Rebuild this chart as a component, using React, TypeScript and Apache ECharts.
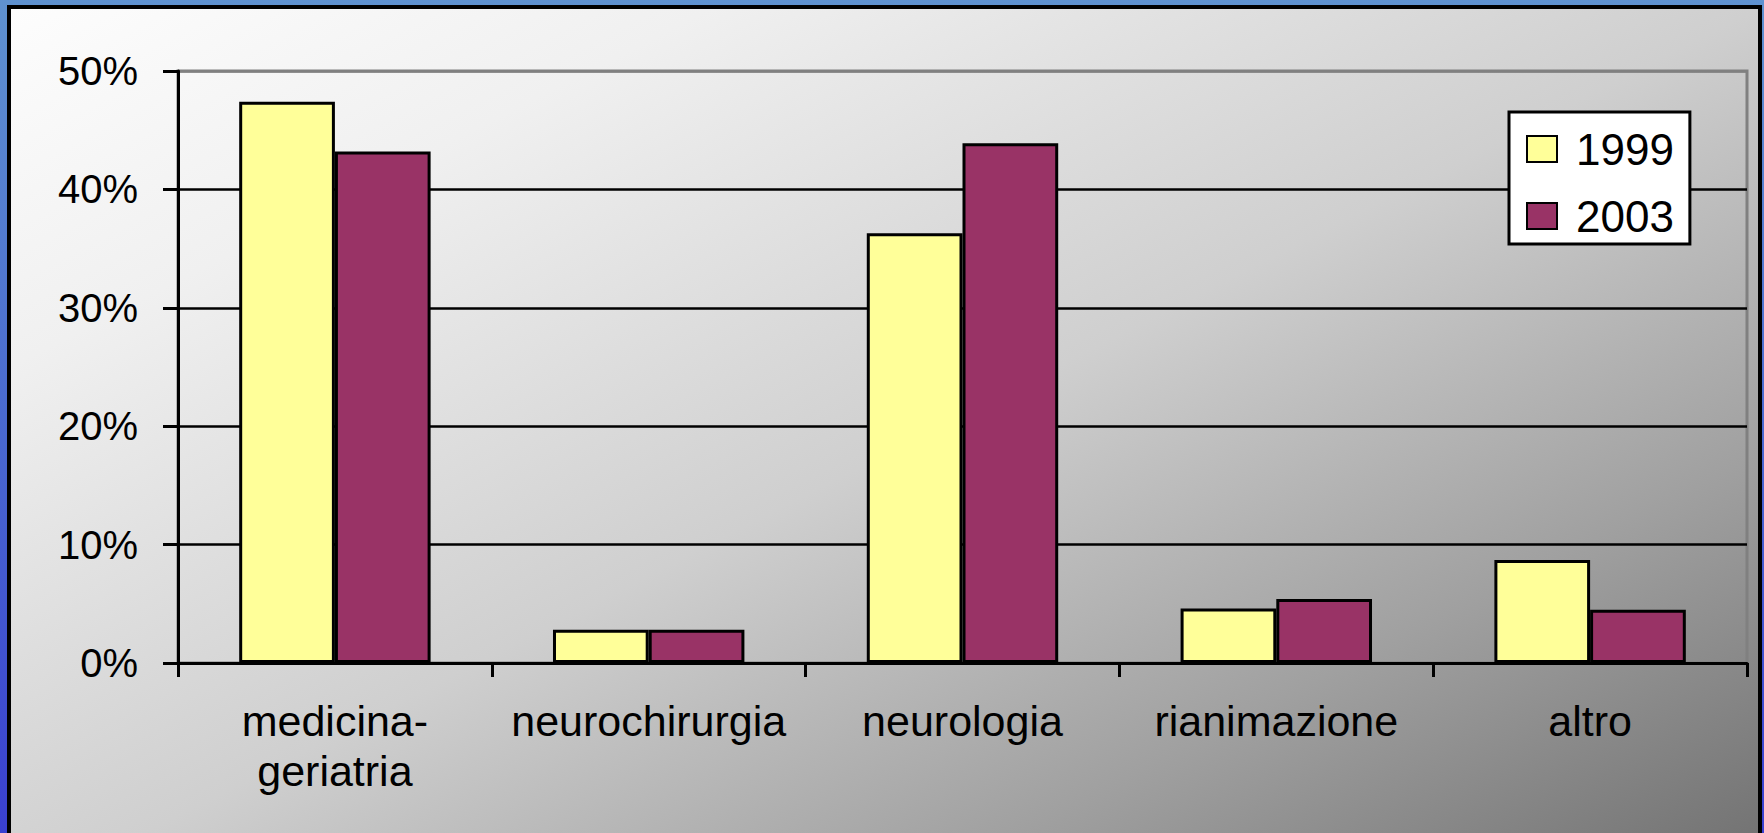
import React, { useEffect, useRef } from "react";
import * as echarts from "echarts";

const categories = ["medicina-\ngeriatria", "neurochirurgia", "neurologia", "rianimazione", "altro"];
const values1999 = [47.4, 2.8, 36.3, 4.6, 8.7];
const values2003 = [43.2, 2.8, 43.9, 5.4, 4.5];
const seriesNames = ["1999", "2003"];
const yTicks = [0, 10, 20, 30, 40, 50];

const FONT = "'Liberation Sans', Arial, sans-serif";

export default function App() {
  const ref = useRef<HTMLDivElement>(null);

  useEffect(() => {
    if (!ref.current) return;
    const chart = echarts.init(ref.current, null, { renderer: "svg" });
    const gridColors = yTicks.map((t, i) => (i === yTicks.length - 1 ? "#808080" : "#000000"));
    chart.setOption({
      animation: false,
      backgroundColor: "transparent",
      textStyle: { fontFamily: FONT },
      grid: {
        left: 178,
        top: 71,
        right: 17,
        bottom: 170,
        show: true,
        borderColor: "#808080",
        borderWidth: 3,
        backgroundColor: "transparent",
        containLabel: false,
      },
      legend: {
        show: true,
        orient: "vertical",
        left: 1509,
        top: 112,
        data: seriesNames,
        backgroundColor: "#ffffff",
        borderColor: "#000000",
        borderWidth: 3,
        padding: [15, 16, 6, 17],
        itemWidth: 30,
        itemHeight: 26,
        itemGap: 23,
        icon: "rect",
        itemStyle: { borderColor: "#000000", borderWidth: 2 },
        textStyle: {
          fontFamily: FONT,
          fontSize: 44,
          lineHeight: 42,
          color: "#000000",
          padding: [0, 0, 0, 14],
        },
      },
      xAxis: {
        type: "category",
        data: categories,
        axisLine: { show: true, lineStyle: { color: "#000000", width: 3 } },
        axisTick: { show: true, alignWithLabel: false, length: 14, lineStyle: { color: "#000000", width: 3 } },
        axisLabel: {
          interval: 0,
          margin: 33,
          color: "#000000",
          fontFamily: FONT,
          fontSize: 43,
          lineHeight: 50,
        },
        splitLine: { show: false },
      },
      yAxis: {
        type: "value",
        min: 0,
        max: 50,
        interval: 10,
        axisLine: { show: true, lineStyle: { color: "#000000", width: 3 } },
        axisTick: { show: true, inside: false, length: 15, lineStyle: { color: "#000000", width: 3 } },
        axisLabel: {
          margin: 40,
          color: "#000000",
          fontFamily: FONT,
          fontSize: 40,
          formatter: (v: number) => `${v}%`,
        },
        splitLine: { show: true, lineStyle: { color: gridColors, width: 2.5 } },
      },
      series: [
        {
          name: seriesNames[0],
          type: "bar",
          data: values1999,
          barGap: "0%",
          barCategoryGap: "39%",
          itemStyle: { color: "#FFFF99", borderColor: "#000000", borderWidth: 3 },
        },
        {
          name: seriesNames[1],
          type: "bar",
          data: values2003,
          barGap: "0%",
          barCategoryGap: "39%",
          itemStyle: { color: "#993366", borderColor: "#000000", borderWidth: 3 },
        },
      ],
    });
    return () => chart.dispose();
  }, []);

  return (
    <div
      style={{
        position: "fixed",
        left: 0,
        top: 0,
        width: 1764,
        height: 833,
        overflow: "hidden",
        background: "linear-gradient(to bottom, #5f92d0 0%, #4a6ad0 50%, #3a40d0 100%)",
      }}
    >
      <div
        style={{
          position: "absolute",
          left: 7,
          top: 5,
          width: 1755,
          height: 900,
          boxSizing: "border-box",
          border: "4px solid #000000",
          background: "linear-gradient(to bottom right, #fdfdfd 0%, #f0f0f0 20%, #cfcfcf 50%, #a0a0a0 75%, #6c6c6c 100%)",
        }}
      />
      <div ref={ref} style={{ position: "absolute", left: 0, top: 0, width: 1764, height: 833 }} />
    </div>
  );
}
